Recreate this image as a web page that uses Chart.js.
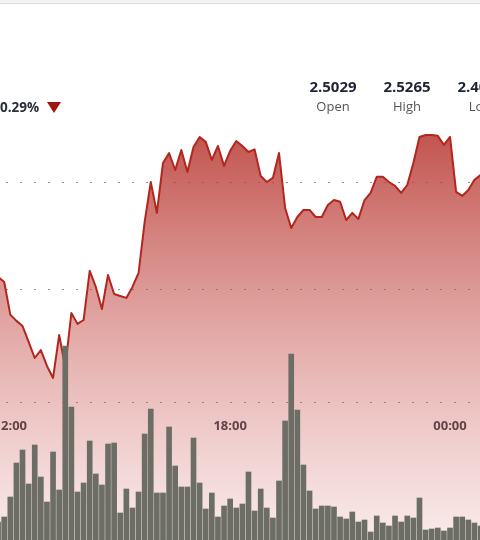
<!DOCTYPE html>
<html>
<head>
<meta charset="utf-8">
<script src="https://cdn.jsdelivr.net/npm/chart.js@4.4.1/dist/chart.umd.min.js"></script>
<style>
  html, body { margin: 0; padding: 0; background: #fff; overflow: hidden; }
  body { width: 480px; height: 540px; position: relative; font-family: "Open Sans", sans-serif; }
  .topbar { position: absolute; left: 0; top: 0; width: 480px; height: 3px; background: #f3f3f3; border-bottom: 1px solid #dcdcdc; z-index: 3; }
  .wrap { position: absolute; left: 0; top: 0; width: 480px; height: 540px; }
  .chg { position: absolute; left: 0; top: 98px; font-size: 13.5px; font-weight: 700; color: #2a2e39; line-height: 18px; z-index: 2; }
  .tri { position: absolute; left: 47px; top: 102px; width: 0; height: 0; border-left: 7px solid transparent; border-right: 7px solid transparent; border-top: 11px solid #a3150d; z-index: 2; }
  .stat { position: absolute; top: 76px; transform: translateX(-50%); text-align: center; z-index: 2; white-space: nowrap; }
  .stat b { display: block; font-size: 15px; font-weight: 700; color: #1e2436; line-height: 20px; }
  .stat span { display: block; font-size: 13px; color: #555; line-height: 20px; }
</style>
</head>
<body>
<div class="topbar"></div>
<div class="wrap"><canvas id="chart"></canvas></div>
<div class="chg">0.29%</div>
<div class="tri"></div>
<div class="stat" style="left:333px"><b>2.5029</b><span>Open</span></div>
<div class="stat" style="left:407px"><b>2.5265</b><span>High</span></div>
<div class="stat" style="left:481px"><b>2.4061</b><span>Low</span></div>

<script>
// ===== DATA =====
const times = [
  "11:40", "11:50", "12:00", "12:10", "12:20", "12:30", "12:40", "12:50", "13:00", "13:10", "13:20", "13:30",
  "13:40", "13:50", "14:00", "14:10", "14:20", "14:30", "14:40", "14:50", "15:00", "15:10", "15:20", "15:30",
  "15:40", "15:50", "16:00", "16:10", "16:20", "16:30", "16:40", "16:50", "17:00", "17:10", "17:20", "17:30",
  "17:40", "17:50", "18:00", "18:10", "18:20", "18:30", "18:40", "18:50", "19:00", "19:10", "19:20", "19:30",
  "19:40", "19:50", "20:00", "20:10", "20:20", "20:30", "20:40", "20:50", "21:00", "21:10", "21:20", "21:30",
  "21:40", "21:50", "22:00", "22:10", "22:20", "22:30", "22:40", "22:50", "23:00", "23:10", "23:20", "23:30",
  "23:40", "23:50", "00:00", "00:10", "00:20", "00:30", "00:40", "00:50", "01:00"
];

const prices = [
  2.4561, 2.4537, 2.4385, 2.4356, 2.4332, 2.4258, 2.4183, 2.4220, 2.4146, 2.4090,
  2.4290, 2.4141, 2.4393, 2.4342, 2.4360, 2.4589, 2.4514, 2.4411, 2.4570, 2.4481,
  2.4472, 2.4463, 2.4514, 2.4579, 2.4817, 2.5003, 2.4859, 2.5092, 2.5138, 2.5059,
  2.5152, 2.5050, 2.5166, 2.5213, 2.5190, 2.5106, 2.5171, 2.5078, 2.5148, 2.5194,
  2.5171, 2.5143, 2.5155, 2.5031, 2.5003, 2.5022, 2.5138, 2.4882, 2.4789, 2.4840,
  2.4873, 2.4873, 2.4840, 2.4840, 2.4896, 2.4919, 2.4911, 2.4826, 2.4859, 2.4831,
  2.4919, 2.4952, 2.5027, 2.5027, 2.5003, 2.4985, 2.4952, 2.4989, 2.5092, 2.5213,
  2.5222, 2.5222, 2.5218, 2.5176, 2.5213, 2.4957, 2.4938, 2.4966, 2.5013, 2.5036,
  2.5106
];

const volumes = [
  18, 23, 43, 77, 90, 56, 95, 63, 38, 88,
  50, 194, 133, 48, 57, 99, 66, 55, 96, 97,
  27, 51, 32, 48, 106, 131, 47, 47, 113, 74,
  53, 53, 102, 57, 31, 47, 23, 34, 41, 32,
  36, 68, 29, 51, 32, 22, 59, 119, 186, 130,
  75, 49, 31, 34, 34, 33, 23, 21, 28, 18,
  20, 8, 24, 17, 14, 24, 18, 24, 22, 42,
  10, 11, 12, 9, 12, 23, 23, 20, 17, 14,
  15
];

const tickLabels = ["12:00", "18:00", "00:00"];
const gridPrices = [2.3976, 2.45, 2.50];

// ===== CHART =====
const tickPos = tickLabels.map(t => times.indexOf(t));
const pricePoints = prices.map((v, i) => ({ x: i, y: v }));
const volumePoints = volumes.map((v, i) => ({ x: i, y: v }));

function fillGradient(context) {
  const { chart } = context;
  const area = chart.chartArea;
  if (!area) return "rgba(200,80,75,0.4)";
  const g = chart.ctx.createLinearGradient(0, 130, 0, area.bottom);
  g.addColorStop(0, "rgba(183,52,46,0.85)");
  g.addColorStop(1, "rgba(214,118,115,0.15)");
  return g;
}

new Chart(document.getElementById("chart"), {
  data: {
    datasets: [
      {
        type: "bar",
        data: volumePoints,
        yAxisID: "y2",
        backgroundColor: "#6c6d65",
        barThickness: 5,
        grouped: false,
        order: 0
      },
      {
        type: "line",
        data: pricePoints,
        yAxisID: "y",
        borderColor: "#b3261e",
        borderWidth: 2,
        borderJoinStyle: "round",
        backgroundColor: fillGradient,
        fill: "start",
        tension: 0,
        pointRadius: 0,
        order: 1
      }
    ]
  },
  options: {
    responsive: true,
    maintainAspectRatio: false,
    animation: false,
    layout: { padding: 0 },
    plugins: { legend: { display: false }, tooltip: { enabled: false } },
    scales: {
      x: {
        type: "linear",
        min: 0.312,
        max: 78.91,
        offset: false,
        position: { y: 2.3976 },
        grid: { display: false, drawTicks: false, offset: false },
        border: { display: false },
        afterBuildTicks: s => { s.ticks = tickPos.map(v => ({ value: v })); },
        afterFit: s => { s.paddingLeft = 0; s.paddingRight = 0; },
        ticks: {
          autoSkip: false,
          maxRotation: 0,
          padding: 16,
          color: "#2a2e39",
          font: { family: "Open Sans", size: 13, weight: "bold" },
          callback: v => tickLabels[tickPos.indexOf(v)]
        }
      },
      y: {
        min: 2.3335,
        max: 2.5851,
        position: "right",
        afterBuildTicks: s => { s.ticks = gridPrices.map(v => ({ value: v })); },
        ticks: { display: false },
        grid: { color: "#8f8f8f", lineWidth: 1, drawTicks: false },
        border: { display: false, dash: [2, 12], dashOffset: 8 }
      },
      y2: {
        min: 0,
        max: 540,
        display: false
      }
    }
  }
});
</script>
</body>
</html>
